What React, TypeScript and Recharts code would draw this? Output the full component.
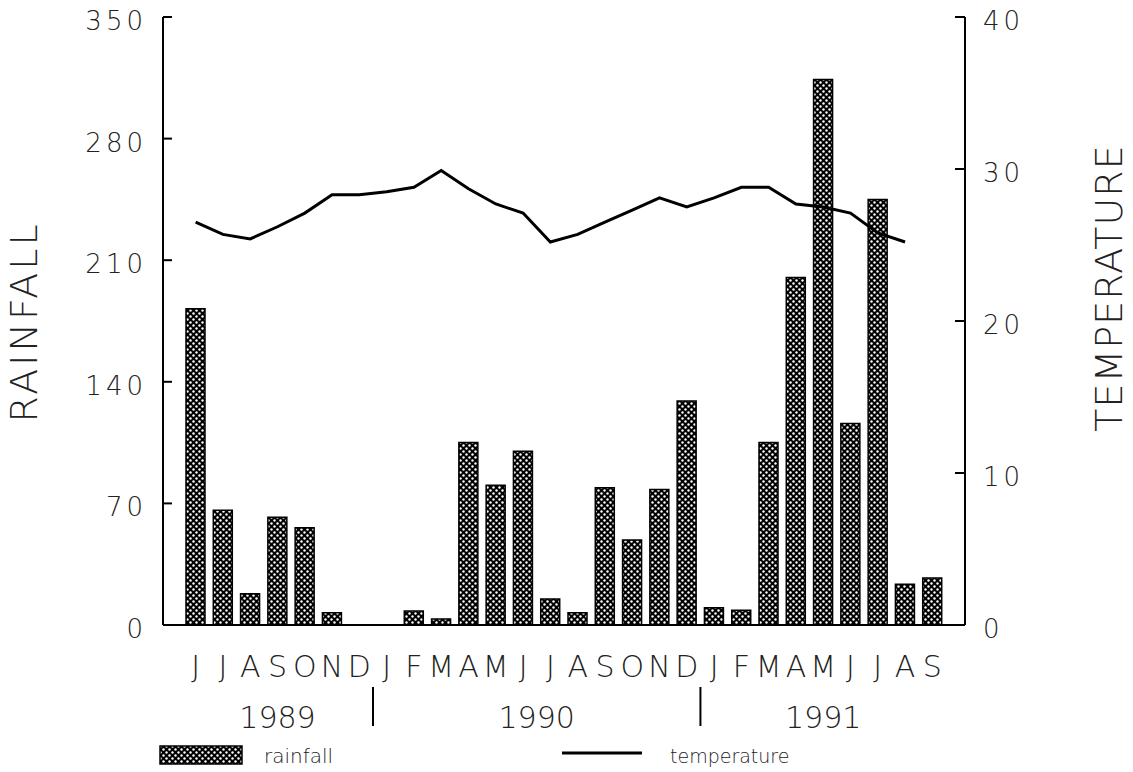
import { ComposedChart, Bar, Line, XAxis, YAxis } from "recharts";

// monthly values, June 1989 .. September 1991
const months = [
  "J", "J", "A", "S", "O", "N", "D",
  "J", "F", "M", "A", "M", "J", "J", "A", "S", "O", "N", "D",
  "J", "F", "M", "A", "M", "J", "J", "A", "S",
];
const rainfall = [
  182, 66, 18, 62, 56, 7, 0,
  0, 8, 3.5, 105, 80.5, 100, 15, 7, 79, 49, 78, 129,
  10, 8.5, 105, 200, 314, 116, 245, 23.5, 27,
];
const temperature = [
  26.5, 25.7, 25.4, 26.2, 27.1, 28.3, 28.3,
  28.5, 28.8, 29.9, 28.7, 27.7, 27.1, 25.2, 25.7, 26.5, 27.3, 28.1, 27.5,
  28.1, 28.8, 28.8, 27.7, 27.5, 27.1, 25.8, 25.2, null,
];
const years = [
  { label: "1989", first: 0, last: 6 },
  { label: "1990", first: 7, last: 18 },
  { label: "1991", first: 19, last: 27 },
];
const rainTicks = [0, 70, 140, 210, 280, 350];
const tempTicks = [0, 10, 20, 30, 40];

const data = months.map((m, i) => ({
  month: m,
  rainfall: rainfall[i],
  temperature: temperature[i],
}));

const FONT = "'DejaVu Sans', 'Liberation Sans', sans-serif";
const W = 1133;
const H = 772;
const LEFT = 163;
const RIGHT = 168;
const TOP = 17;
const BOTTOM = 147;
const PAD = 19;
const BAND = (W - LEFT - RIGHT - 2 * PAD) / months.length;

const LeftTick = ({ x, y, payload }: any) => (
  <g>
    <line x1={x} x2={x + 9} y1={y} y2={y} stroke="#000" strokeWidth={2} />
    <text x={x - 16} y={y + 4} textAnchor="end" dominantBaseline="central"
      fontFamily={FONT} fontWeight={300} fontSize={26} letterSpacing={4} fill="#222">
      {payload.value}
    </text>
  </g>
);

const RightTick = ({ x, y, payload }: any) => (
  <g>
    <line x1={x - 10} x2={x} y1={y} y2={y} stroke="#000" strokeWidth={2} />
    <text x={x + 18} y={y + 4} textAnchor="start" dominantBaseline="central"
      fontFamily={FONT} fontWeight={300} fontSize={26} letterSpacing={4} fill="#222">
      {payload.value}
    </text>
  </g>
);

const MonthTick = (props: any) => {
  const { x, y, payload } = props;
  const index = props.index ?? payload.index;
  const year = years.find((yr) => yr.first === index);
  return (
    <g>
      <text x={x} y={y + 41} textAnchor="middle" dominantBaseline="central"
        fontFamily={FONT} fontWeight={300} fontSize={30} fill="#222">
        {payload.value}
      </text>
      {year && (
        <text x={x + ((year.last - year.first) / 2) * BAND} y={y + 92}
          textAnchor="middle" dominantBaseline="central"
          fontFamily={FONT} fontWeight={300} fontSize={30} fill="#222">
          {year.label}
        </text>
      )}
      {year && year.first > 0 && (
        <line x1={x - BAND / 2} x2={x - BAND / 2} y1={y + 62} y2={y + 101}
          stroke="#000" strokeWidth={2} />
      )}
    </g>
  );
};

export default function App() {
  return (
    <div style={{ position: "relative", width: W, height: H, background: "#fff" }}>
      <style>{"body{margin:0}"}</style>
      <svg width={0} height={0} style={{ position: "absolute" }}>
        <defs>
          <pattern id="hatch" patternUnits="userSpaceOnUse" width={6} height={6}>
            <rect width={6} height={6} fill="#000" />
            <circle cx={1.5} cy={1.5} r={1.2} fill="#fff" />
            <circle cx={4.5} cy={4.5} r={1.2} fill="#fff" />
          </pattern>
        </defs>
      </svg>

      <ComposedChart width={W} height={H} data={data}
        margin={{ top: TOP, right: 0, bottom: 0, left: 0 }}>
        <XAxis dataKey="month" interval={0} height={BOTTOM}
          padding={{ left: PAD, right: PAD }}
          axisLine={{ stroke: "#000", strokeWidth: 2 }}
          tickLine={false} tickSize={0} tickMargin={0} tick={<MonthTick />} />
        <YAxis yAxisId="left" orientation="left" width={LEFT}
          domain={[0, 350]} ticks={rainTicks}
          axisLine={{ stroke: "#000", strokeWidth: 2 }}
          tickLine={false} tickSize={0} tickMargin={0} tick={<LeftTick />}
          label={{
            content: () => (
              <text x={24} y={322} textAnchor="middle" dominantBaseline="central"
                transform="rotate(-90 24 322)" fontFamily={FONT} fontWeight={300}
                fontSize={38} letterSpacing={3} fill="#222">
                RAINFALL
              </text>
            ),
          }} />
        <YAxis yAxisId="right" orientation="right" width={RIGHT}
          domain={[0, 40]} ticks={tempTicks}
          axisLine={{ stroke: "#000", strokeWidth: 2 }}
          tickLine={false} tickSize={0} tickMargin={0} tick={<RightTick />}
          label={{
            content: () => (
              <text x={1109} y={288} textAnchor="middle" dominantBaseline="central"
                transform="rotate(-90 1109 288)" fontFamily={FONT} fontWeight={300}
                fontSize={38} letterSpacing={1} fill="#222">
                TEMPERATURE
              </text>
            ),
          }} />
        <Bar yAxisId="left" dataKey="rainfall" barSize={19}
          fill="url(#hatch)" stroke="#000" strokeWidth={1.5}
          isAnimationActive={false} />
        <Line yAxisId="right" dataKey="temperature" type="linear"
          stroke="#000" strokeWidth={3} dot={false} activeDot={false}
          isAnimationActive={false} />
      </ComposedChart>

      {/* legend */}
      <svg width={W} height={40} style={{ position: "absolute", left: 0, top: 736 }}>
        <rect x={160} y={10} width={82} height={18} fill="url(#hatch)" stroke="#000" strokeWidth={1.5} />
        <text x={264} y={20} dominantBaseline="central" fontFamily={FONT}
          fontWeight={300} fontSize={20} fill="#222">rainfall</text>
        <line x1={562} x2={642} y1={17} y2={17} stroke="#000" strokeWidth={3} />
        <text x={670} y={20} dominantBaseline="central" fontFamily={FONT}
          fontWeight={300} fontSize={19} fill="#222">temperature</text>
      </svg>
    </div>
  );
}
